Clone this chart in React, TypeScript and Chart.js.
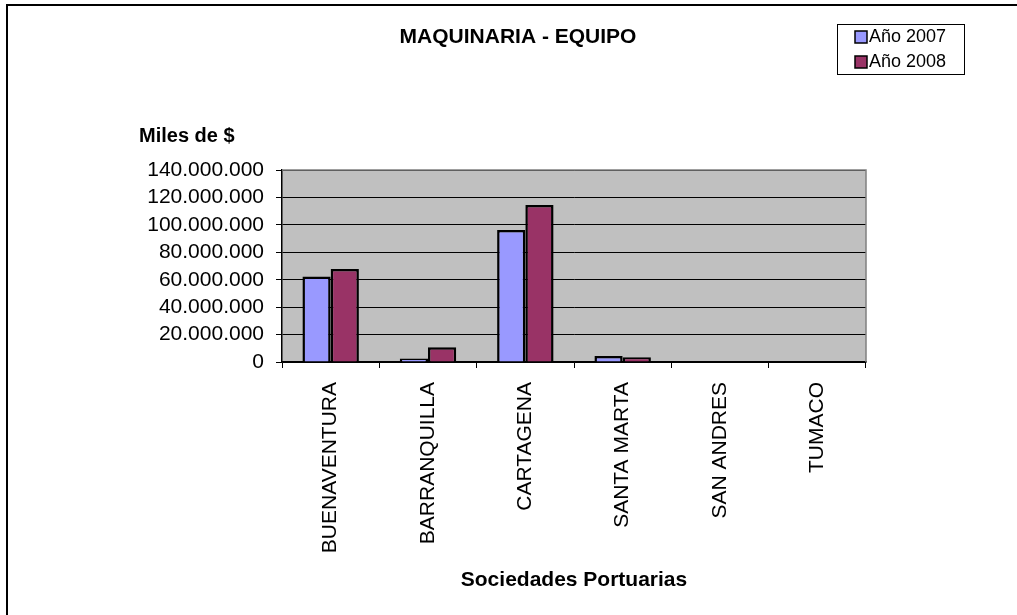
import React, { useEffect, useRef } from "react";
import { Chart, registerables } from "chart.js";

Chart.register(...registerables);

const categories = ["BUENAVENTURA", "BARRANQUILLA", "CARTAGENA", "SANTA MARTA", "SAN ANDRES", "TUMACO"];
const values2007 = [62400000, 2500000, 96300000, 4400000, 0, 0];
const values2008 = [67800000, 10800000, 114500000, 3500000, 0, 0];
const seriesLabels = ["Año 2007", "Año 2008"];
const seriesColors = ["#9999FF", "#993366"];
const yMin = 0;
const yMax = 140000000;
const yStep = 20000000;
const chartTitle = "MAQUINARIA - EQUIPO";
const yAxisTitle = "Miles de $";
const xAxisTitle = "Sociedades Portuarias";

const FONT = "'Liberation Sans', Arial, sans-serif";

const formatThousands = (v: number) =>
  Math.round(v).toString().replace(/\B(?=(\d{3})+(?!\d))/g, ".");

const decorPlugin = {
  id: "decor",
  beforeDraw(chart: any) {
    const { ctx, chartArea } = chart;
    ctx.save();
    ctx.fillStyle = "#FFFFFF";
    ctx.fillRect(0, 0, chart.width, chart.height);
    ctx.fillStyle = "#C0C0C0";
    ctx.fillRect(chartArea.left, chartArea.top, chartArea.right - chartArea.left, chartArea.bottom - chartArea.top);
    ctx.restore();
  },
  afterDraw(chart: any) {
    const { ctx, chartArea } = chart;
    ctx.save();
    // plot area border (top/right gray)
    ctx.strokeStyle = "#808080";
    ctx.lineWidth = 1.5;
    ctx.beginPath();
    ctx.moveTo(chartArea.left, chartArea.top);
    ctx.lineTo(chartArea.right, chartArea.top);
    ctx.lineTo(chartArea.right, chartArea.bottom);
    ctx.stroke();

    // outer frame (left/top)
    ctx.strokeStyle = "#000000";
    ctx.lineWidth = 2;
    ctx.beginPath();
    ctx.moveTo(7, chart.height);
    ctx.lineTo(7, 5);
    ctx.lineTo(chart.width, 5);
    ctx.stroke();

    // title
    ctx.fillStyle = "#000000";
    ctx.textAlign = "center";
    ctx.textBaseline = "middle";
    ctx.font = `bold 21px ${FONT}`;
    ctx.fillText(chartTitle, 518, 37);

    // y axis title
    ctx.font = `bold 20px ${FONT}`;
    ctx.textAlign = "left";
    ctx.fillText(yAxisTitle, 139, 136);

    // x axis title
    ctx.font = `bold 21px ${FONT}`;
    ctx.textAlign = "center";
    ctx.fillText(xAxisTitle, (chartArea.left + chartArea.right) / 2, 580);

    // legend
    ctx.lineWidth = 1;
    ctx.strokeStyle = "#000000";
    ctx.strokeRect(837.5, 24.5, 127, 50);
    ctx.font = `18px ${FONT}`;
    ctx.textAlign = "left";
    chart.data.datasets.forEach((ds: any, i: number) => {
      const cy = 37 + i * 25;
      ctx.fillStyle = ds.backgroundColor;
      ctx.fillRect(855, cy - 6, 12, 12);
      ctx.strokeStyle = "#000000";
      ctx.lineWidth = 1.5;
      ctx.strokeRect(855, cy - 6, 12, 12);
      ctx.fillStyle = "#000000";
      ctx.fillText(ds.label, 869, cy);
    });
    ctx.restore();
  },
};

export default function App() {
  const canvasRef = useRef<HTMLCanvasElement | null>(null);

  useEffect(() => {
    if (!canvasRef.current) return;
    const chart = new Chart(canvasRef.current, {
      type: "bar",
      data: {
        labels: categories,
        datasets: [
          {
            label: seriesLabels[0],
            data: values2007,
            backgroundColor: seriesColors[0],
            borderColor: "#000000",
            borderWidth: 2.5,
            borderSkipped: "bottom",
            categoryPercentage: 0.58,
            barPercentage: 1,
          },
          {
            label: seriesLabels[1],
            data: values2008,
            backgroundColor: seriesColors[1],
            borderColor: "#000000",
            borderWidth: 2.5,
            borderSkipped: "bottom",
            categoryPercentage: 0.58,
            barPercentage: 1,
          },
        ],
      },
      options: {
        responsive: false,
        animation: false,
        devicePixelRatio: 1,
        layout: { padding: { left: 0, top: 170, right: 151, bottom: 0 } },
        plugins: {
          legend: { display: false },
          title: { display: false },
          tooltip: { enabled: false },
        },
        scales: {
          x: {
            grid: {
              offset: true,
              drawOnChartArea: false,
              drawTicks: true,
              tickLength: 6,
              color: "#000000",
              lineWidth: 1,
            },
            border: { display: true, color: "#000000", width: 1.5 },
            ticks: {
              autoSkip: false,
              minRotation: 90,
              maxRotation: 90,
              padding: 14,
              color: "#000000",
              font: { family: FONT, size: 21 },
            },
            afterFit: (axis: any) => {
              axis.height = 615 - 362;
            },
          },
          y: {
            min: yMin,
            max: yMax,
            ticks: {
              autoSkip: false,
              stepSize: yStep,
              padding: 12,
              color: "#000000",
              font: { family: FONT, size: 21 },
              callback: (v: any) => formatThousands(Number(v)),
            },
            grid: {
              color: "#000000",
              lineWidth: 1,
              drawTicks: true,
              tickLength: 6,
            },
            border: { display: true, color: "#000000", width: 1.5 },
            afterFit: (axis: any) => {
              axis.width = 282;
            },
          },
        },
      },
      plugins: [decorPlugin],
    });
    return () => chart.destroy();
  }, []);

  return (
    <div style={{ position: "absolute", left: 0, top: 0, width: 1017, height: 615 }}>
      <canvas ref={canvasRef} width={1017} height={615} style={{ width: 1017, height: 615 }} />
    </div>
  );
}
